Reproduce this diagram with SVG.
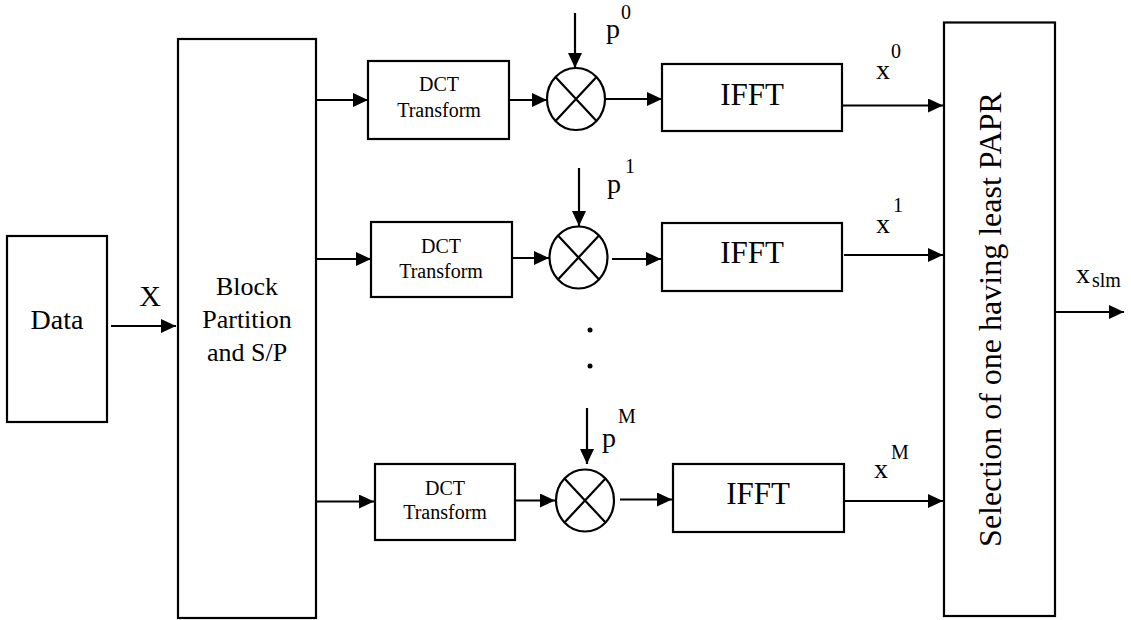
<svg xmlns="http://www.w3.org/2000/svg" width="1131" height="620" viewBox="0 0 1131 620">
<style>
.box{fill:#fff;stroke:#000;stroke-width:2.2}
.mul{fill:#fff;stroke:#000;stroke-width:2.2}
.ln{fill:none;stroke:#000;stroke-width:2.2}
.arr{fill:none;stroke:#000;stroke-width:2.2;marker-end:url(#ah)}
</style>
<defs>
<marker id="ah" markerUnits="userSpaceOnUse" markerWidth="16" markerHeight="14" refX="15" refY="7" orient="auto">
<path d="M0,0 L15,7 L0,14 z" fill="#000"/>
</marker>
</defs>
<rect width="1131" height="620" fill="#fff"/>

<g id="data">
<rect class="box" x="7" y="236" width="100" height="186"/>
<text style="font-family:'Liberation Serif',serif" font-size="28" x="57" y="329" text-anchor="middle">Data</text>
</g>

<g id="block">
<rect class="box" x="178" y="39" width="138" height="579"/>
<text style="font-family:'Liberation Serif',serif" font-size="26" x="247" y="295" text-anchor="middle">Block</text>
<text style="font-family:'Liberation Serif',serif" font-size="26" x="247" y="328" text-anchor="middle">Partition</text>
<text style="font-family:'Liberation Serif',serif" font-size="26" x="247" y="361" text-anchor="middle">and S/P</text>
</g>

<g id="dct1">
<rect class="box" x="368" y="61" width="141" height="78"/>
<text style="font-family:'Liberation Serif',serif" font-size="20" x="439" y="91" text-anchor="middle">DCT</text>
<text style="font-family:'Liberation Serif',serif" font-size="20" x="439" y="117" text-anchor="middle">Transform</text>
</g>
<g id="dct2">
<rect class="box" x="371" y="222" width="141" height="75"/>
<text style="font-family:'Liberation Serif',serif" font-size="20" x="441" y="253" text-anchor="middle">DCT</text>
<text style="font-family:'Liberation Serif',serif" font-size="20" x="441" y="278" text-anchor="middle">Transform</text>
</g>
<g id="dct3">
<rect class="box" x="375" y="464" width="140" height="76"/>
<text style="font-family:'Liberation Serif',serif" font-size="20" x="445" y="495" text-anchor="middle">DCT</text>
<text style="font-family:'Liberation Serif',serif" font-size="20" x="445" y="519" text-anchor="middle">Transform</text>
</g>

<g id="mul1">
<ellipse class="mul" cx="576" cy="99" rx="29" ry="31"/>
<path class="ln" d="M555.5,77 L596.5,121 M596.5,77 L555.5,121"/>
</g>
<g id="mul2">
<ellipse class="mul" cx="578.5" cy="257.5" rx="29" ry="31"/>
<path class="ln" d="M558,235.5 L599,279.5 M599,235.5 L558,279.5"/>
</g>
<g id="mul3">
<ellipse class="mul" cx="585" cy="500.5" rx="29" ry="31"/>
<path class="ln" d="M564.5,478.5 L605.5,522.5 M605.5,478.5 L564.5,522.5"/>
</g>

<g id="ifft1">
<rect class="box" x="662" y="64" width="180" height="67"/>
<text style="font-family:'Liberation Serif',serif" font-size="31" x="752" y="105" text-anchor="middle">IFFT</text>
</g>
<g id="ifft2">
<rect class="box" x="662" y="223" width="180" height="68"/>
<text style="font-family:'Liberation Serif',serif" font-size="31" x="752" y="263" text-anchor="middle">IFFT</text>
</g>
<g id="ifft3">
<rect class="box" x="673" y="464" width="171" height="68"/>
<text style="font-family:'Liberation Serif',serif" font-size="31" x="758" y="504" text-anchor="middle">IFFT</text>
</g>

<g id="select">
<rect class="box" x="944" y="22.5" width="111" height="593.5"/>
<text style="font-family:'Liberation Serif',serif" font-size="32" transform="translate(1001,319.5) rotate(-90)" text-anchor="middle">Selection of one having least PAPR</text>
</g>

<g id="connectors">
<line class="arr" x1="111" y1="326" x2="176" y2="326"/>
<line class="arr" x1="316" y1="100" x2="368" y2="100"/>
<line class="arr" x1="509" y1="100" x2="547" y2="100"/>
<line class="arr" x1="605" y1="99" x2="662" y2="99"/>
<line class="arr" x1="842" y1="105.5" x2="943" y2="105.5"/>
<line class="arr" x1="575" y1="13" x2="575" y2="68"/>

<line class="arr" x1="316" y1="259" x2="371" y2="259"/>
<line class="arr" x1="512" y1="258" x2="549" y2="258"/>
<line class="arr" x1="612" y1="259" x2="661" y2="259"/>
<line class="arr" x1="844" y1="255" x2="943" y2="255"/>
<line class="arr" x1="579" y1="168" x2="579" y2="226"/>

<line class="arr" x1="316" y1="501.5" x2="374" y2="501.5"/>
<line class="arr" x1="515" y1="500.5" x2="555" y2="500.5"/>
<line class="arr" x1="620" y1="499.5" x2="672" y2="499.5"/>
<line class="arr" x1="844" y1="501" x2="943" y2="501"/>
<line class="arr" x1="587" y1="408" x2="587" y2="464"/>

<line class="arr" x1="1055" y1="312" x2="1124" y2="312"/>
</g>

<g id="labels">
<text style="font-family:'Liberation Serif',serif" font-size="30" x="150" y="306" text-anchor="middle">X</text>
<text style="font-family:'Liberation Serif',serif" font-size="28" x="606" y="38">p</text>
<text style="font-family:'Liberation Serif',serif" font-size="20" x="621" y="19">0</text>
<text style="font-family:'Liberation Serif',serif" font-size="28" x="607" y="193">p</text>
<text style="font-family:'Liberation Serif',serif" font-size="20" x="625" y="173">1</text>
<text style="font-family:'Liberation Serif',serif" font-size="28" x="602" y="447">p</text>
<text style="font-family:'Liberation Serif',serif" font-size="20" x="618" y="423">M</text>
<text style="font-family:'Liberation Serif',serif" font-size="28" x="876" y="79">x</text>
<text style="font-family:'Liberation Serif',serif" font-size="20" x="891" y="58">0</text>
<text style="font-family:'Liberation Serif',serif" font-size="28" x="876" y="233">x</text>
<text style="font-family:'Liberation Serif',serif" font-size="20" x="893" y="212">1</text>
<text style="font-family:'Liberation Serif',serif" font-size="28" x="874" y="478">x</text>
<text style="font-family:'Liberation Serif',serif" font-size="20" x="891" y="459">M</text>
<text style="font-family:'Liberation Serif',serif" font-size="28" x="1076" y="283">x</text>
<text style="font-family:'Liberation Serif',serif" font-size="20" x="1092" y="287">slm</text>
<circle cx="590" cy="330" r="2.5" fill="#000"/>
<circle cx="590" cy="366" r="2.5" fill="#000"/>
</g>
</svg>
